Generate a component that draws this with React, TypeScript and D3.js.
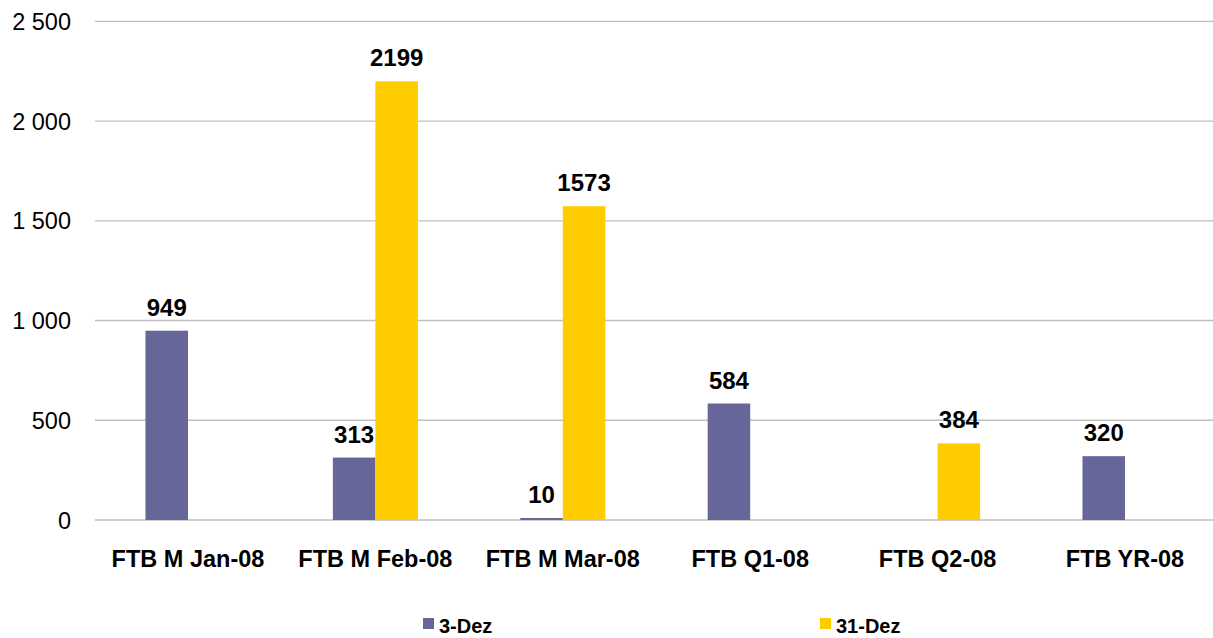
import { useEffect, useRef } from 'react';
import * as d3 from 'd3';

const categories = ['FTB M Jan-08', 'FTB M Feb-08', 'FTB M Mar-08', 'FTB Q1-08', 'FTB Q2-08', 'FTB YR-08'];
const seriesNames = ['3-Dez', '31-Dez'];
const dez3 = [949, 313, 10, 584, null, 320];
const dez31 = [null, 2199, 1573, null, 384, null];
const yTicks = [0, 500, 1000, 1500, 2000, 2500];
const colors = ['#666699', '#FFCC00'];

const App = () => {
  const ref = useRef<SVGSVGElement | null>(null);

  useEffect(() => {
    const width = 1213;
    const height = 638;
    const font = 'Arial, "Liberation Sans", sans-serif';

    const x = d3.scaleBand<string>()
      .domain(categories)
      .range([94.3, 1218.7])
      .paddingInner(0.546)
      .paddingOuter(0.273);

    const x1 = d3.scaleBand<string>()
      .domain(seriesNames)
      .range([0, x.bandwidth()]);

    const y = d3.scaleLinear()
      .domain([0, 2500])
      .range([520, 21.3]);

    const svg = d3.select(ref.current);
    svg.selectAll('*').remove();
    svg.attr('width', width).attr('height', height);

    // gridlines
    svg.append('g')
      .selectAll('line')
      .data(yTicks)
      .enter().append('line')
      .attr('x1', 95)
      .attr('x2', width)
      .attr('y1', d => y(d))
      .attr('y2', d => y(d))
      .attr('stroke', '#BFBFBF')
      .attr('stroke-width', 1.3);

    // y tick labels
    svg.append('g')
      .selectAll('text')
      .data(yTicks)
      .enter().append('text')
      .attr('x', 71)
      .attr('y', d => y(d) + 8.5)
      .attr('text-anchor', 'end')
      .style('font-family', font)
      .style('font-size', '23.5px')
      .text(d => d3.format(',')(d).replace(/,/g, ' '));

    const series = [dez3, dez31];
    series.forEach((vals, si) => {
      const g = svg.append('g');
      const items = categories
        .map((c, i) => ({ c, v: vals[i] }))
        .filter(d => d.v !== null) as { c: string; v: number }[];

      g.selectAll('rect')
        .data(items)
        .enter().append('rect')
        .attr('x', d => (x(d.c) as number) + (x1(seriesNames[si]) as number))
        .attr('width', x1.bandwidth())
        .attr('y', d => y(d.v))
        .attr('height', d => y(0) - y(d.v))
        .attr('fill', colors[si]);

      g.selectAll('text')
        .data(items)
        .enter().append('text')
        .attr('x', d => (x(d.c) as number) + (x1(seriesNames[si]) as number) + x1.bandwidth() / 2)
        .attr('y', d => y(d.v) - 15)
        .attr('text-anchor', 'middle')
        .style('font-family', font)
        .style('font-size', '24px')
        .style('font-weight', 'bold')
        .text(d => d.v);
    });

    // category labels
    svg.append('g')
      .selectAll('text')
      .data(categories)
      .enter().append('text')
      .attr('x', d => (x(d) as number) + x.bandwidth() / 2)
      .attr('y', 567)
      .attr('text-anchor', 'middle')
      .style('font-family', font)
      .style('font-size', '23.5px')
      .style('font-weight', 'bold')
      .text(d => d);

    // legend
    const legendX = [423, 820];
    const legend = svg.append('g')
      .selectAll('g')
      .data(seriesNames)
      .enter().append('g')
      .attr('transform', (d, i) => `translate(${legendX[i]}, 618)`);
    legend.append('rect')
      .attr('width', 11)
      .attr('height', 11)
      .attr('fill', (d, i) => colors[i]);
    legend.append('text')
      .attr('x', 16)
      .attr('y', 15)
      .style('font-family', font)
      .style('font-size', '20px')
      .style('font-weight', 'bold')
      .text(d => d);
  }, []);

  return (
    <svg ref={ref} style={{ position: 'absolute', left: 0, top: 0, background: '#fff' }} />
  );
};

export default App;
